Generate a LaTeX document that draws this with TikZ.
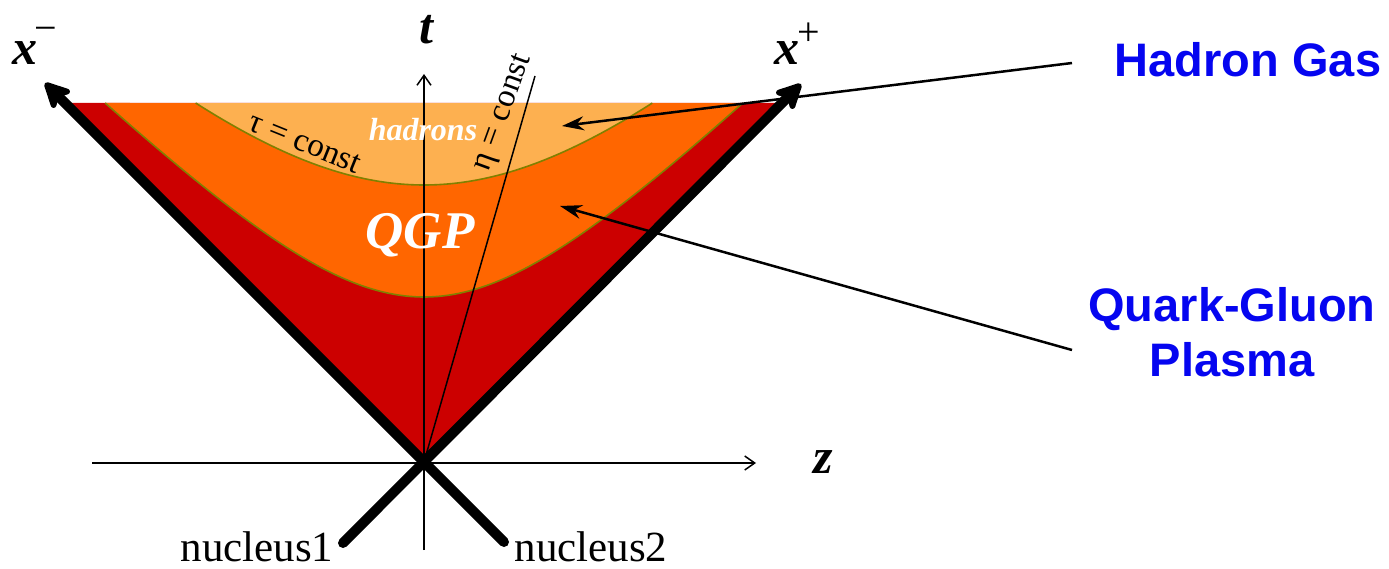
\documentclass[tikz,border=0pt]{standalone}
\usepackage{fontspec}
\setmainfont{Liberation Serif}
\newfontfamily\arialfont{Liberation Sans}
\usetikzlibrary{arrows.meta}
\definecolor{redc}{RGB}{204,0,0}
\definecolor{orangec}{RGB}{255,102,0}
\definecolor{hadc}{RGB}{253,176,80}
\definecolor{olivec}{RGB}{128,128,0}
\definecolor{bluec}{RGB}{5,5,240}
\begin{document}
\begin{tikzpicture}[x=1pt,y=-1pt,
  heavyline/.style={line width=10pt},
  bigtip/.style={-{Stealth[length=32pt,width=32pt,inset=9pt,round]}},
  axisline/.style={line width=1.5pt,-{Straight Barb[length=10pt,width=14pt]}},
  fineline/.style={line width=1.5pt},
  pointer/.style={line width=2.5pt,-{Stealth[length=22pt,width=14pt]}},
  boundary/.style={olivec,line width=1.6pt},
  bluelab/.style={text=bluec,font=\arialfont\bfseries\fontsize{47}{55}\selectfont,inner sep=0pt},
  axlab/.style={font=\bfseries\itshape\fontsize{50}{50}\selectfont,inner sep=0pt},
  suplab/.style={font=\fontsize{40}{40}\selectfont,inner sep=0pt},
  nuclab/.style={font=\fontsize{43}{43}\selectfont,inner sep=0pt},
  inlab/.style={font=\fontsize{33}{33}\selectfont,inner sep=0pt},
  whitelab/.style={text=white,font=\bfseries\itshape,inner sep=0pt}]
\useasboundingbox (0,0) rectangle (1389,569);
% regions
\coordinate (O) at (424,462);
\coordinate (TL) at (65,103);
\coordinate (TR) at (783,103);
\fill[redc] (O) -- (TL) -- (TR) -- cycle;
\fill[orangec] plot[domain=-3.1884:3.1884,samples=120] ({424+100*\x},{462-100*sqrt(1.65*1.65+\x*\x)}) -- cycle;
\fill[hadc] plot[domain=-2.2836:2.2836,samples=120] ({424+100*\x},{462-100*sqrt(2.77*2.77+\x*\x)}) -- cycle;
\draw[boundary] plot[domain=-3.1884:3.1884,samples=120] ({424+100*\x},{462-100*sqrt(1.65*1.65+\x*\x)});
\draw[boundary] plot[domain=-2.2836:2.2836,samples=120] ({424+100*\x},{462-100*sqrt(2.77*2.77+\x*\x)});
% axes
\coordinate (zL) at (92,463);
\coordinate (zR) at (756,463);
\coordinate (tB) at (424,550);
\coordinate (tT) at (424,74);
\draw[axisline] (zL) -- (zR);
\draw[axisline] (tB) -- (tT);
% eta line
\coordinate (eT) at (535,76);
\draw[fineline] (O) -- (eT);
% light-cone lines
\coordinate (n1) at (343,543);
\coordinate (n2) at (504,542);
\coordinate (xm) at (45,83);
\coordinate (xp) at (801,84);
\draw[heavyline,line cap=round,bigtip] (n1) -- (xp);
\draw[heavyline,line cap=round,bigtip] (n2) -- (xm);
% labels
\node[axlab] (tlab) at (426,30) {t};
\node[axlab] (zlab) at (823,462) {z};
\node[axlab,anchor=base] (xmlab) at (25,65) {x};
\node[suplab] (xmsup) at (46,34) {−};
\node[axlab,anchor=base] (xplab) at (787,65) {x};
\node[suplab] (xpsup) at (809,34) {+};
\node[nuclab] (nuc1) at (257,547) {nucleus1};
\node[nuclab] (nuc2) at (591,547) {nucleus2};
\node[inlab,rotate=-22] (taulab) at (305,143) {τ = const};
\node[inlab,rotate=70] (etalab) at (504,113) {η = const};
\node[whitelab,font=\bfseries\itshape\fontsize{32}{32}\selectfont] (hadlab) at (423,130) {hadrons};
\node[whitelab,font=\bfseries\itshape\fontsize{53}{53}\selectfont] (qgplab) at (420,235) {QGP};
% right labels
\node[bluelab] (hg) at (1248,60) {Hadron Gas};
\node[bluelab,align=center] (qgpt) at (1232,332) {Quark-Gluon\\Plasma};
\coordinate (hgs) at (1072,63);
\coordinate (hgt) at (562,126);
\coordinate (qgs) at (1072,350);
\coordinate (qgt) at (560,206);
\draw[pointer] (hgs) -- (hgt);
\draw[pointer] (qgs) -- (qgt);
\end{tikzpicture}
\end{document}
